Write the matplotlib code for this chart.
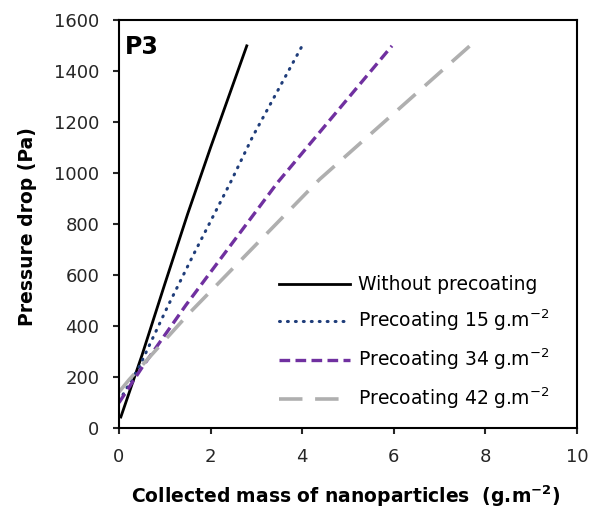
import numpy as np
import matplotlib
matplotlib.use("Agg")
import matplotlib.pyplot as plt

plt.rcParams['font.family'] = ['DejaVu Sans']
plt.rcParams['mathtext.default'] = 'regular'

# values (collected mass g/m2, pressure drop Pa)
mass_none = [0.04, 0.5, 1.0, 1.5, 2.0, 2.79]
dp_none = [44, 285, 565, 840, 1100, 1498]

mass_15 = [0.0, 0.44, 1.06, 1.64, 2.44, 2.92, 3.99]
dp_15 = [105, 240, 476, 685, 965, 1143, 1495]

mass_34 = [0.0, 0.51, 1.46, 3.46, 5.96]
dp_34 = [100, 240, 482, 962, 1498]

mass_42 = [0.0, 0.22, 1.53, 4.38, 7.73]
dp_42 = [142, 190, 450, 975, 1509]

labels = ['Without precoating',
          'Precoating 15 g.m$^{\u22122}$',
          'Precoating 34 g.m$^{\u22122}$',
          'Precoating 42 g.m$^{\u22122}$']

fig = plt.figure(figsize=(6.01, 5.08), dpi=100)
ax = fig.add_axes([0.198, 0.157, 0.762, 0.804])

ax.plot(mass_none, dp_none, color='black', lw=2.0, label=labels[0])
ax.plot(mass_15, dp_15, color='#1F3D7A', lw=2.2, linestyle=(0, (0.3, 2.3)),
        dash_capstyle='round', label=labels[1])
ax.plot(mass_34, dp_34, color='#7030A0', lw=2.4, linestyle=(0, (3.2, 1.6)),
        label=labels[2])
ax.plot(mass_42, dp_42, color='#AFAFAF', lw=2.6, linestyle=(0, (6.5, 3.5)),
        label=labels[3])

ax.set_xlim(0, 10)
ax.set_ylim(0, 1600)
ax.set_xticks(np.arange(0, 11, 2))
ax.set_yticks(np.arange(0, 1601, 200))
ax.tick_params(direction='out', length=4, width=1.5, labelsize=13, colors='#262626')
ax.tick_params(axis='x', pad=10)
ax.tick_params(axis='y', pad=10)
for s in ax.spines.values():
    s.set_linewidth(1.5)

ax.set_xlabel('Collected mass of nanoparticles  (g.m$^{-2}$)', fontsize=13.5,
              fontweight='bold')
ax.xaxis.set_label_coords(0.495, -0.136)
ax.set_ylabel('Pressure drop (Pa)', fontsize=13.5, fontweight='bold')
ax.yaxis.set_label_coords(-0.18, 0.493)
ax.text(0.013, 0.962, 'P3', transform=ax.transAxes, fontsize=17,
        fontweight='bold', va='top', ha='left')

ax.legend(loc='upper left', bbox_to_anchor=(0.35, 0.375), frameon=False,
          fontsize=13.5, handlelength=3.75, labelspacing=0.72, handletextpad=0.43,
          borderpad=0, borderaxespad=0)

fig.savefig('out.png', dpi=100)
